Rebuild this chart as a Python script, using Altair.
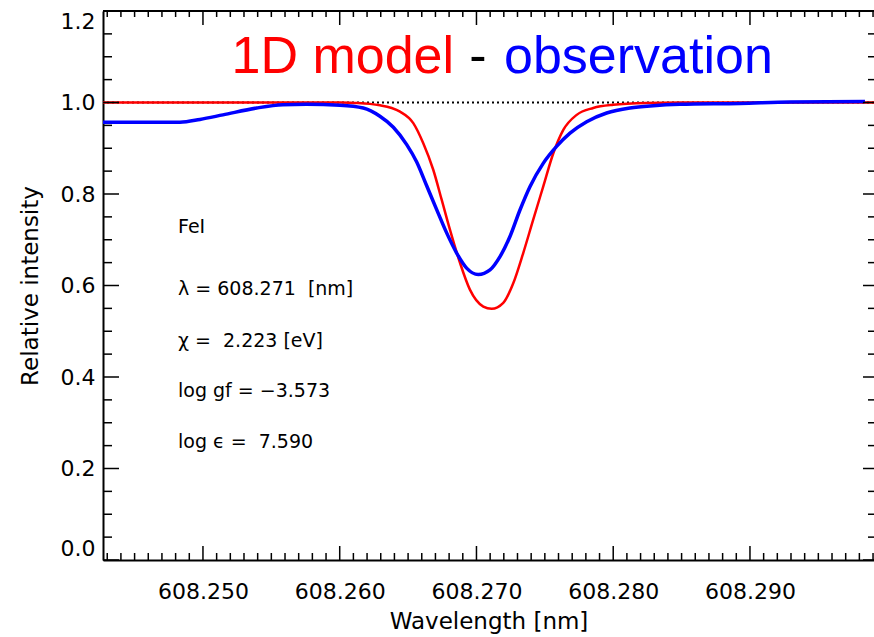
import altair as alt
import pandas as pd

# ---- data ----
wl_model = [608.24269, 608.2600, 608.26111, 608.26221, 608.26294, 608.26380, 608.26441,
            608.26538, 608.26611, 608.26684, 608.26746, 608.26806, 608.26879, 608.26952,
            608.27050, 608.27111, 608.27196, 608.27269, 608.27342, 608.27415, 608.27488,
            608.27562, 608.27635, 608.27733, 608.27854, 608.28000, 608.28245, 608.2850,
            608.29907]
int_model = [1.0, 1.0, 0.999, 0.997, 0.994, 0.988, 0.980,
             0.955, 0.911, 0.853, 0.787, 0.722, 0.650, 0.591,
             0.554, 0.549, 0.562, 0.605, 0.671, 0.744, 0.816,
             0.889, 0.940, 0.973, 0.988, 0.995, 0.999, 1.0,
             1.0]

wl_obs = [608.24269, 608.24832, 608.24978, 608.25146, 608.25393, 608.25585, 608.25758,
          608.26002, 608.26172, 608.26294, 608.26392, 608.26490, 608.26563, 608.26636,
          608.26709, 608.26782, 608.26855, 608.26928, 608.27013, 608.27099, 608.27172,
          608.27245, 608.27318, 608.27391, 608.27488, 608.27586, 608.27684, 608.27806,
          608.27952, 608.28123, 608.28293, 608.28488, 608.28927, 608.29293, 608.29841]
int_obs = [0.957, 0.957, 0.963, 0.973, 0.988, 0.995, 0.996,
           0.994, 0.988, 0.970, 0.946, 0.908, 0.870, 0.818,
           0.766, 0.715, 0.671, 0.638, 0.624, 0.634, 0.663,
           0.707, 0.765, 0.816, 0.867, 0.904, 0.933, 0.958,
           0.977, 0.988, 0.993, 0.996, 0.998, 1.001, 1.002]

continuum = [1.0]
x_major = [608.250, 608.260, 608.270, 608.280, 608.290]
y_major = [0.0, 0.2, 0.4, 0.6, 0.8, 1.0, 1.2]
x_minor = [round(608.243 + 0.001 * i, 3) for i in range(57)
           if abs(round((608.243 + 0.001 * i) * 1000)) % 10 != 0]
y_minor = [round(0.05 * i, 2) for i in range(1, 24) if i % 4 != 0]

annotation_lines = ["FeI", "λ = 608.271\u00a0 [nm]", "χ =\u00a0 2.223 [eV]",
                    "log gf = −3.573", "log ϵ =\u00a0 7.590"]
title_parts = ["1D model", "-", "observation"]

# ---- layout ----
X_MIN, X_MAX = 608.24269, 608.29907
W, H = 771, 549
FONT = "DejaVu Sans"

xs = alt.Scale(domain=[X_MIN, X_MAX], nice=False, zero=False)
ys = alt.Scale(domain=[0, 1.2], nice=False, zero=False)

df_model = pd.DataFrame({"wl": wl_model, "I": int_model})
df_obs = pd.DataFrame({"wl": wl_obs, "I": int_obs})
df_cont = pd.DataFrame({"c": continuum})
df_xmaj = pd.DataFrame({"v": x_major})
df_xmin = pd.DataFrame({"v": x_minor})
df_ymaj = pd.DataFrame({"v": y_major})
df_ymin = pd.DataFrame({"v": y_minor})

x_axis = alt.Axis(orient="bottom", values=x_major, format=".3f", ticks=False, grid=False,
                  domain=True, domainColor="black", domainWidth=2,
                  labelFont=FONT, labelFontSize=22, labelColor="black",
                  labelPadding=38, labelBaseline="alphabetic", labelFlush=False,
                  title="Wavelength [nm]", titleFont=FONT, titleFontSize=23,
                  titleFontWeight="normal", titleColor="black",
                  titleY=68, titleBaseline="alphabetic")
y_axis = alt.Axis(orient="left", values=y_major, format=".1f", ticks=False, grid=False,
                  domain=True, domainColor="black", domainWidth=2,
                  labelFont=FONT, labelFontSize=22, labelColor="black",
                  labelPadding=8, labelFlush=True,
                  title="Relative intensity", titleFont=FONT, titleFontSize=23,
                  titleFontWeight="normal", titleColor="black",
                  titleX=-66, titleY=H / 2, titleAngle=270, titleBaseline="alphabetic")

X = lambda f: alt.X(f, scale=xs, axis=x_axis)
Y = lambda f: alt.Y(f, scale=ys, axis=y_axis)

dotted = alt.Chart(df_cont).mark_rule(color="black", strokeWidth=1.8, strokeDash=[2, 3]).encode(
    y=Y("c:Q"))

red = alt.Chart(df_model).mark_line(color="#ff0000", strokeWidth=2.5, interpolate="monotone", clip=True).encode(
    x=X("wl:Q"), y=Y("I:Q"))

blue = alt.Chart(df_obs).mark_line(color="#0000ff", strokeWidth=3.5, interpolate="monotone", clip=True).encode(
    x=X("wl:Q"), y=Y("I:Q"))

def xticks(df, y0, y1):
    return alt.Chart(df).mark_rule(color="black", strokeWidth=1.5).encode(
        x=X("v:Q"), y=alt.value(y0), y2=alt.value(y1))

def yticks(df, x0, x1):
    return alt.Chart(df).mark_rule(color="black", strokeWidth=1.5).encode(
        y=Y("v:Q"), x=alt.value(x0), x2=alt.value(x1))

ticks = [
    xticks(df_xmaj, H, H - 14), xticks(df_xmin, H, H - 7),
    xticks(df_xmaj, 0, 14), xticks(df_xmin, 0, 6),
    yticks(df_ymaj, 0, 16), yticks(df_ymin, 0, 9),
    yticks(df_ymaj, W, W - 11), yticks(df_ymin, W, W - 6),
]

top_border = alt.Chart(df_cont).mark_rule(color="black", strokeWidth=2).encode(
    x=alt.value(0), x2=alt.value(W), y=alt.value(0))

ann_y = [222, 284, 336, 386, 437]
annotations = [
    alt.Chart(pd.DataFrame({"t": [line]})).mark_text(
        align="left", baseline="alphabetic", font=FONT, fontSize=19, color="black").encode(
        x=alt.value(75), y=alt.value(yy), text="t:N")
    for line, yy in zip(annotation_lines, ann_y)
]

title_specs = [(title_parts[0], 128.5, "left", "#ff0000"),
               (title_parts[1], 375, "center", "black"),
               (title_parts[2], 401, "left", "#0000ff")]
titles = [
    alt.Chart(pd.DataFrame({"t": [txt]})).mark_text(
        align=al, baseline="alphabetic", font="Liberation Sans", fontSize=52, color=col).encode(
        x=alt.value(xx), y=alt.value(61.7), text="t:N")
    for txt, xx, al, col in title_specs
]

chart = alt.layer(dotted, red, blue, top_border, *ticks, *annotations, *titles).properties(
    width=W, height=H,
    autosize=alt.AutoSizeParams(type="none"),
    padding={"left": 103, "top": 11, "right": 0, "bottom": 77},
    background="white",
).configure_view(stroke=None)

chart.save("out.html", embed_options={"renderer": "svg", "actions": False})
